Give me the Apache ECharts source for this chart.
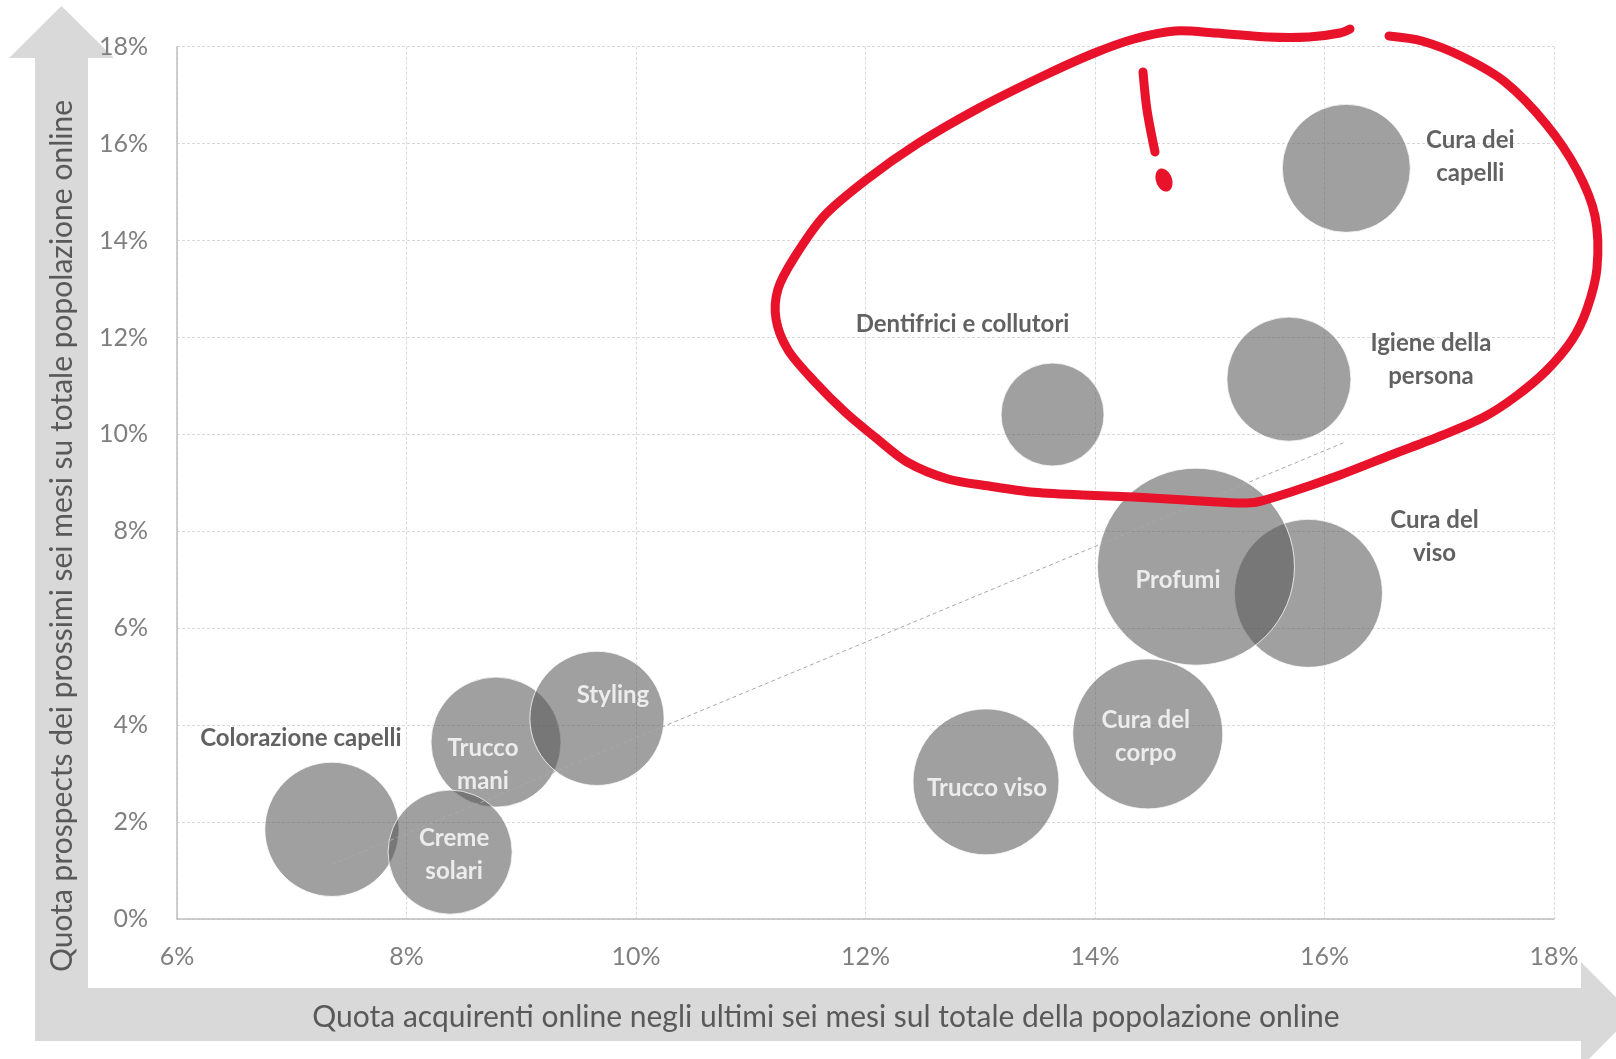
<!DOCTYPE html>
<html><head><meta charset="utf-8">
<script src="https://cdn.jsdelivr.net/npm/echarts@6/dist/echarts.min.js"></script>
<style>html,body{margin:0;padding:0;background:#fff}#c{width:1616px;height:1059px}</style>
</head><body><div id="c"></div>
<script>
// ---- data ----
const categories = ['Colorazione capelli','Trucco mani','Creme solari','Styling','Cura del viso','Profumi','Cura del corpo','Trucco viso','Dentifrici e collutori','Igiene della persona','Cura dei capelli'];
const labelTexts = ['Colorazione capelli','Trucco\nmani','Creme\nsolari','Styling','Cura del\nviso','Profumi','Cura del\ncorpo','Trucco viso','Dentifrici e collutori','Igiene della\npersona','Cura dei\ncapelli'];
const buyersShare    = [7.35, 8.78, 8.38, 9.66, 15.86, 14.88, 14.46, 13.05, 13.63, 15.69, 16.19];
const prospectsShare = [1.85, 3.65, 1.38, 4.14,  6.72,  7.27,  3.82,  2.83, 10.41, 11.14, 15.49];
const bubbleSize     = [1.80, 1.69, 1.54, 1.80,  2.19,  3.88,  2.25,  2.13,  1.06,  1.54,  1.64];
const xTickValues = [6, 8, 10, 12, 14, 16, 18];
const yTickValues = [0, 2, 4, 6, 8, 10, 12, 14, 16, 18];
const xTitle = 'Quota acquirenti online negli ultimi sei mesi sul totale della popolazione online';
const yTitle = 'Quota prospects dei prossimi sei mesi su totale popolazione online';

// ---- label layout (styles, not data) ----
const labelOffsets = [[-31,-91],[-13,23],[4,3],[16,-23],[126,-57],[-18,14],[-2,3],[1,6],[-90,-90],[142,-19],[124,-12]];
const labelInside  = [false,true,true,true,false,true,true,true,false,false,false];

// ---- linear trend line (least squares on the data) ----
const n = buyersShare.length;
const mx = buyersShare.reduce((a,b)=>a+b,0)/n;
const my = prospectsShare.reduce((a,b)=>a+b,0)/n;
let sxy=0, sxx=0;
for (let i=0;i<n;i++){ sxy += (buyersShare[i]-mx)*(prospectsShare[i]-my); sxx += (buyersShare[i]-mx)**2; }
const slope = sxy/sxx, icpt = my - slope*mx;
const xmin = Math.min(...buyersShare), xmax = Math.max(...buyersShare);
const trend = [[xmin, icpt+slope*xmin],[xmax, icpt+slope*xmax]];

const bubbleData = categories.map((c,i)=>({
  name: c,
  value: [buyersShare[i], prospectsShare[i], bubbleSize[i]],
  label: {
    show: true, position: 'inside', formatter: labelTexts[i],
    offset: labelOffsets[i],
    color: labelInside[i] ? '#ffffff' : '#3a3a3a',
    fontFamily: 'Lato', fontWeight: 'bold', fontSize: 24, lineHeight: 33, align: 'center'
  }
}));

const chart = echarts.init(document.getElementById('c'), null, {renderer:'canvas'});

const arrowPts = [[35,1041],[35,58],[9,58],[61.5,6],[114,58],[88,58],[88,988],[1581,988],[1581,962],[1633,1014.5],[1581,1067],[1581,1041]];
const loopPts = [[1389,36],[1422,41],[1463,57],[1505,82],[1546,124],[1577,170],[1595,216],[1597,268],[1587,309],[1572,340],[1546,371],[1515,397],[1484,417],[1443,435],[1391,455],[1340,475],[1288,493],[1257,502],[1237,503],[1185,500],[1134,497],[1082,495],[1031,492],[989,486],[948,479],[907,462],[876,438],[845,412],[814,381],[788,350],[776,319],[778,289],[794,258],[824,216],[866,180],[917,144],[979,108],[1041,77],[1092,54],[1134,39],[1175,31],[1216,33],[1268,37],[1309,37],[1340,33],[1350,29]];

chart.setOption({
  animation: false,
  grid: {left: 177, right: 62, top: 46.7, bottom: 140, containLabel: false},
  xAxis: {
    type: 'value', min: xTickValues[0], max: xTickValues[xTickValues.length-1], interval: 2,
    axisLine: {show: true, onZero: false, lineStyle: {color: '#bfbfbf', width: 1.5}},
    axisTick: {show: false},
    axisLabel: {formatter: '{value}%', color: '#7f7f7f', fontFamily: 'Lato', fontSize: 25, margin: 25},
    splitLine: {show: true, lineStyle: {color: '#d9d9d9', type: [3,2], width: 1}}
  },
  yAxis: {
    type: 'value', min: yTickValues[0], max: yTickValues[yTickValues.length-1], interval: 2,
    axisLine: {show: true, onZero: false, lineStyle: {color: '#bfbfbf', width: 1.5}},
    axisTick: {show: false},
    axisLabel: {formatter: '{value}%', color: '#7f7f7f', fontFamily: 'Lato', fontSize: 25, margin: 29},
    splitLine: {show: true, lineStyle: {color: '#d9d9d9', type: [3,2], width: 1}}
  },
  series: [
    {
      type: 'scatter', data: bubbleData,
      symbolSize: v => Math.sqrt(v[2]) * 100,
      itemStyle: {color: 'rgba(88,88,88,0.71)', borderColor: 'rgba(255,255,255,0.95)', borderWidth: 1},
      emphasis: {disabled: true}, z: 2
    },
    {
      type: 'line', data: trend, symbol: 'none', silent: true,
      lineStyle: {color: '#a8a8a8', width: 1, type: [4,3]}, z: 3
    }
  ],
  graphic: [
    {type: 'polygon', z: -10, shape: {points: arrowPts}, style: {fill: '#d9d9d9'}},
    {type: 'text', z: 5, x: 826, y: 1017, style: {text: xTitle, fill: '#595959', font: '30px Lato', align: 'center', verticalAlign: 'middle'}},
    {type: 'text', z: 5, x: 62, y: 536, rotation: Math.PI/2, style: {text: yTitle, fill: '#595959', font: '30px Lato', align: 'center', verticalAlign: 'middle'}},
    {type: 'polyline', z: 100, shape: {points: loopPts, smooth: 0.3}, style: {stroke: '#e8132a', lineWidth: 9, fill: null, lineCap: 'round', lineJoin: 'round'}},
    {type: 'polyline', z: 100, shape: {points: [[1143,72],[1147,110],[1155,152]], smooth: 0.3}, style: {stroke: '#e8132a', lineWidth: 9, fill: null, lineCap: 'round'}},
    {type: 'ellipse', z: 100, rotation: 0.35, x: 1164, y: 180, shape: {cx: 0, cy: 0, rx: 8, ry: 12}, style: {fill: '#e8132a'}}
  ]
});
</script></body></html>
